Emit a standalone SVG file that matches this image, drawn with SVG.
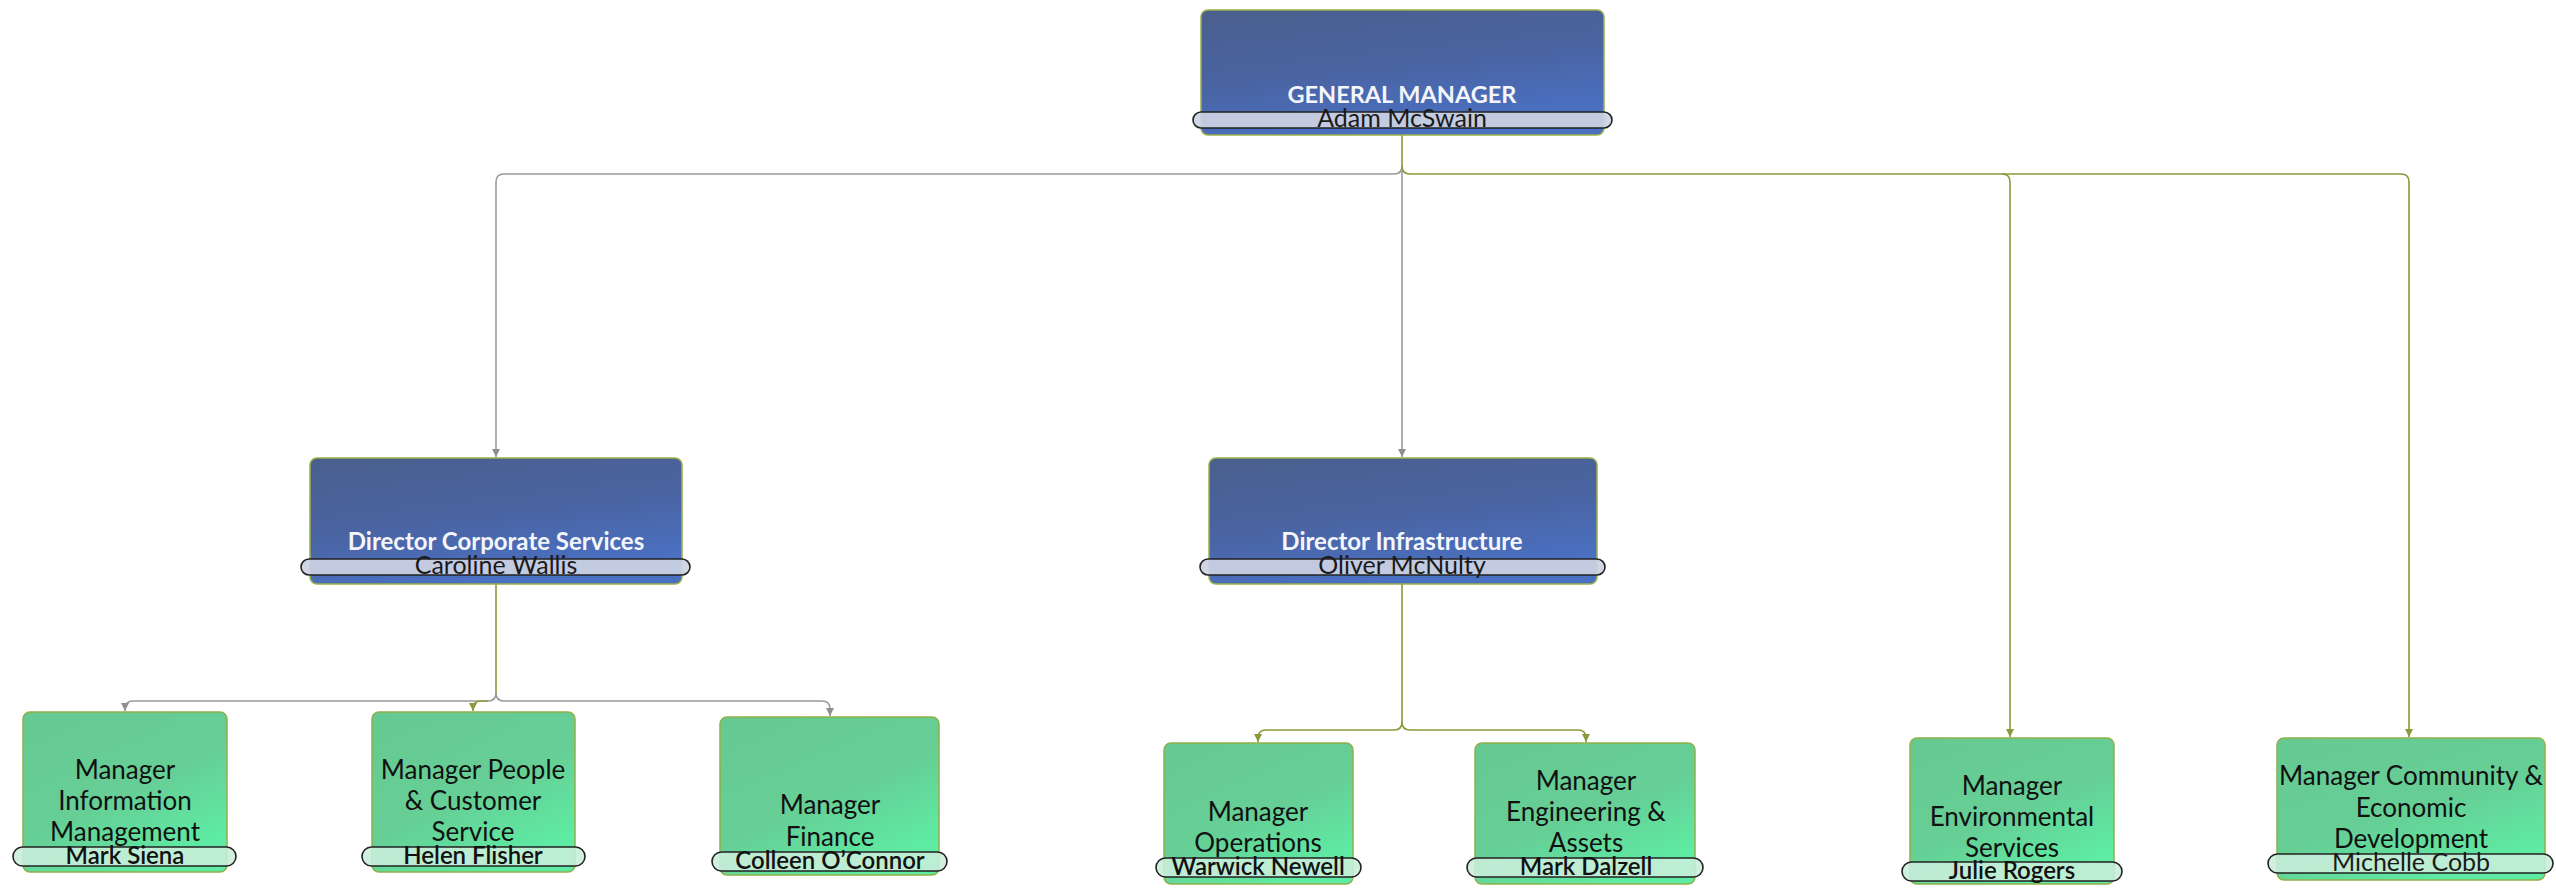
<svg xmlns="http://www.w3.org/2000/svg" width="2556" height="888" viewBox="0 0 2556 888">
<defs>
<linearGradient id="gBlue" x1="0" y1="0" x2="0.35" y2="1">
<stop offset="0" stop-color="#4a5f8d"/>
<stop offset="0.55" stop-color="#4a64a2"/>
<stop offset="1" stop-color="#4a70c2"/>
</linearGradient>
<linearGradient id="gGreen" x1="0" y1="0" x2="0.6" y2="1">
<stop offset="0" stop-color="#66c992"/>
<stop offset="0.6" stop-color="#66cf96"/>
<stop offset="1" stop-color="#5eeba3"/>
</linearGradient>
<marker id="aGray" markerWidth="10" markerHeight="10" refX="8" refY="4" orient="auto" markerUnits="userSpaceOnUse">
<path d="M0,0 L8,4 L0,8 z" fill="#8f8f8f"/>
</marker>
<marker id="aGreen" markerWidth="10" markerHeight="10" refX="8" refY="4" orient="auto" markerUnits="userSpaceOnUse">
<path d="M0,0 L8,4 L0,8 z" fill="#8a9a3a"/>
</marker>
</defs>
<style>
.blue{fill:url(#gBlue);stroke:#9ab04a;stroke-width:1.5}
.green{fill:url(#gGreen);stroke:#8fb04a;stroke-width:1.5}
.pb{fill:#cdd3e3;fill-opacity:0.92;stroke:#222;stroke-width:1.6}
.pg{fill:#c9eedb;fill-opacity:0.88;stroke:#222;stroke-width:1.6}
.tw{font-family:Lato,"Open Sans","Liberation Sans",sans-serif;font-weight:bold;font-size:24px;fill:#f4f6fb;text-anchor:middle}
.tb{font-family:Lato,"Open Sans","Liberation Sans",sans-serif;font-size:26px;fill:#111;text-anchor:middle}
.nm{font-family:Lato,"Open Sans","Liberation Sans",sans-serif;font-weight:600;font-size:24px;fill:#111;text-anchor:middle}
.nl{font-family:Lato,"Open Sans","Liberation Sans",sans-serif;font-size:25px;fill:#1a1a1a;text-anchor:middle}
.cg{fill:none;stroke:#9a9a9a;stroke-width:1.6}
.cv{fill:none;stroke:#8a9a3a;stroke-width:1.6}
</style>
<g id="connectors">
<path class="cv" d="M1402,135 L1402,166"/>
<path class="cg" d="M1402,166 Q1402,174 1394,174 L504,174 Q496,174 496,182 L496,457" marker-end="url(#aGray)"/>
<path class="cg" d="M1402,166 L1402,457" marker-end="url(#aGray)"/>
<path class="cv" d="M1402,166 Q1402,174 1410,174 L2002,174 Q2010,174 2010,182 L2010,737" marker-end="url(#aGreen)"/>
<path class="cv" d="M2002,174 L2401,174 Q2409,174 2409,182 L2409,737" marker-end="url(#aGreen)"/>
<path class="cv" d="M496,584 L496,693"/>
<path class="cg" d="M496,693 Q496,701 488,701 L133,701 Q125,701 125,709 L125,711" marker-end="url(#aGray)"/>
<path class="cg" d="M496,693 Q496,701 504,701 L822,701 Q830,701 830,709 L830,716" marker-end="url(#aGray)"/>
<path class="cv" d="M488,701 L481,701 Q473,701 473,709 L473,711" marker-end="url(#aGreen)"/>
<path class="cv" d="M1402,584 L1402,722 Q1402,730 1394,730 L1266,730 Q1258,730 1258,738 L1258,742" marker-end="url(#aGreen)"/>
<path class="cv" d="M1402,722 Q1402,730 1410,730 L1578,730 Q1586,730 1586,738 L1586,742" marker-end="url(#aGreen)"/>
</g>
<g id="gm">
<rect class="blue" x="1201" y="10" width="403" height="125" rx="7"/>
<text class="tw" x="1402" y="103" style="font-size:23.5px">GENERAL MANAGER</text>
<rect class="pb" x="1193" y="112" width="419" height="16" rx="8"/>
<text class="nl" x="1402" y="127">Adam McSwain</text>
</g>
<g id="dir-corporate">
<rect class="blue" x="310" y="458" width="372" height="126" rx="7"/>
<text class="tw" x="496" y="550">Director Corporate Services</text>
<rect class="pb" x="301" y="559" width="389" height="16" rx="8"/>
<text class="nl" x="496" y="574">Caroline Wallis</text>
</g>
<g id="dir-infra">
<rect class="blue" x="1209" y="458" width="388" height="126" rx="7"/>
<text class="tw" x="1402" y="550">Director Infrastructure</text>
<rect class="pb" x="1200" y="559" width="405" height="16" rx="8"/>
<text class="nl" x="1402" y="574">Oliver McNulty</text>
</g>
<g id="mgr-info">
<rect class="green" x="23" y="712" width="204" height="160" rx="7"/>
<text class="tb" x="125" y="779">Manager</text>
<text class="tb" x="125" y="810">Information</text>
<text class="tb" x="125" y="841">Management</text>
<rect class="pg" x="13" y="847" width="223" height="19" rx="9.5"/>
<text class="nm" x="125" y="864">Mark Siena</text>
</g>
<g id="mgr-people">
<rect class="green" x="372" y="712" width="203" height="160" rx="7"/>
<text class="tb" x="473" y="779">Manager People</text>
<text class="tb" x="473" y="810">&amp; Customer</text>
<text class="tb" x="473" y="841">Service</text>
<rect class="pg" x="362" y="847" width="223" height="19" rx="9.5"/>
<text class="nm" x="473" y="864">Helen Flisher</text>
</g>
<g id="mgr-finance">
<rect class="green" x="720" y="717" width="219" height="158" rx="7"/>
<text class="tb" x="830" y="814">Manager</text>
<text class="tb" x="830" y="846">Finance</text>
<rect class="pg" x="712" y="852" width="235" height="19" rx="9.5"/>
<text class="nm" x="830" y="869">Colleen O’Connor</text>
</g>
<g id="mgr-operations">
<rect class="green" x="1164" y="743" width="189" height="141" rx="7"/>
<text class="tb" x="1258" y="821">Manager</text>
<text class="tb" x="1258" y="852">Operations</text>
<rect class="pg" x="1156" y="858" width="205" height="19" rx="9.5"/>
<text class="nm" x="1258" y="875">Warwick Newell</text>
</g>
<g id="mgr-engineering">
<rect class="green" x="1475" y="743" width="220" height="141" rx="7"/>
<text class="tb" x="1586" y="790">Manager</text>
<text class="tb" x="1586" y="821">Engineering &amp;</text>
<text class="tb" x="1586" y="852">Assets</text>
<rect class="pg" x="1467" y="858" width="236" height="19" rx="9.5"/>
<text class="nm" x="1586" y="875">Mark Dalzell</text>
</g>
<g id="mgr-environmental">
<rect class="green" x="1910" y="738" width="204" height="146" rx="7"/>
<text class="tb" x="2012" y="795">Manager</text>
<text class="tb" x="2012" y="826">Environmental</text>
<text class="tb" x="2012" y="857">Services</text>
<rect class="pg" x="1902" y="862" width="220" height="19" rx="9.5"/>
<text class="nm" x="2012" y="879">Julie Rogers</text>
</g>
<g id="mgr-community">
<rect class="green" x="2277" y="738" width="268" height="142" rx="7"/>
<text class="tb" x="2411" y="785">Manager Community &amp;</text>
<text class="tb" x="2411" y="817">Economic</text>
<text class="tb" x="2411" y="848">Development</text>
<rect class="pg" x="2268" y="854" width="285" height="19" rx="9.5"/>
<text class="nl" x="2411" y="871">Michelle Cobb</text>
</g>
</svg>
